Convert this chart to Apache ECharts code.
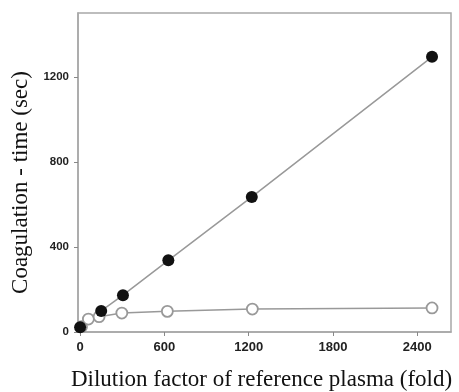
<!DOCTYPE html>
<html><head><meta charset="utf-8">
<script src="https://cdn.jsdelivr.net/npm/echarts@6/dist/echarts.min.js"></script>
<style>html,body{margin:0;padding:0;background:#fff}#c{width:459px;height:392px}</style>
</head><body><div id="c"></div>
<script>
const xTicks = [0, 600, 1200, 1800, 2400];
const yTicks = [0, 400, 800, 1200];
const filledX = [0, 150, 305, 628, 1222, 2505];
const filledY = [22, 99, 173, 337, 635, 1294];
const openX = [10, 59, 135, 297, 621, 1226, 2505];
const openY = [25, 61, 72, 89, 97, 108, 113];

const filled = filledX.map((x, i) => [x, filledY[i]]);
const open = openX.map((x, i) => [x, openY[i]]);

const chart = echarts.init(document.getElementById('c'));
chart.setOption({
  animation: false,
  grid: { left: 78, right: 8, top: 13, bottom: 60, containLabel: false, outerBoundsMode: 'none', show: true, borderColor: '#a8a8a8', borderWidth: 1.5, backgroundColor: 'transparent' },
  xAxis: {
    type: 'value', min: -15, max: 2640,
    name: 'Dilution factor of reference plasma (fold)', nameLocation: 'middle', nameGap: 36,
    nameTextStyle: { fontFamily: 'Liberation Serif', fontSize: 23, color: '#111', padding: [0, 6, 0, 0] },
    axisLine: { show: true, onZero: false, lineStyle: { color: '#a8a8a8', width: 1.5 } },
    axisTick: { show: true, customValues: xTicks, length: 4, lineStyle: { color: '#888' } },
    axisLabel: { customValues: xTicks, formatter: v => String(v), fontFamily: 'Liberation Sans', fontWeight: 'bold', fontSize: 13, color: '#222', margin: 9 },
    splitLine: { show: false }
  },
  yAxis: {
    type: 'value', min: 0, max: 1500,
    name: 'Coagulation - time (sec)', nameLocation: 'middle', nameGap: 43,
    nameTextStyle: { fontFamily: 'Liberation Serif', fontSize: 23, color: '#111', padding: [0, 20, 0, 0] },
    axisLine: { show: true, onZero: false, lineStyle: { color: '#a8a8a8', width: 1.5 } },
    axisTick: { show: true, customValues: yTicks, length: 4, lineStyle: { color: '#888' } },
    axisLabel: { customValues: yTicks, formatter: v => String(v), fontFamily: 'Liberation Sans', fontWeight: 'bold', fontSize: 11.5, color: '#222', margin: 9 },
    splitLine: { show: false }
  },
  series: [
    {
      type: 'line', data: open, symbol: 'circle', symbolSize: 11,
      lineStyle: { color: '#999', width: 1.5 },
      itemStyle: { color: '#fff', borderColor: '#999', borderWidth: 1.8 }
    },
    {
      type: 'line', data: filled, symbol: 'circle', symbolSize: 12,
      lineStyle: { color: '#999', width: 1.5 },
      itemStyle: { color: '#111', borderColor: '#111', borderWidth: 0 }
    }
  ]
});
</script></body></html>
